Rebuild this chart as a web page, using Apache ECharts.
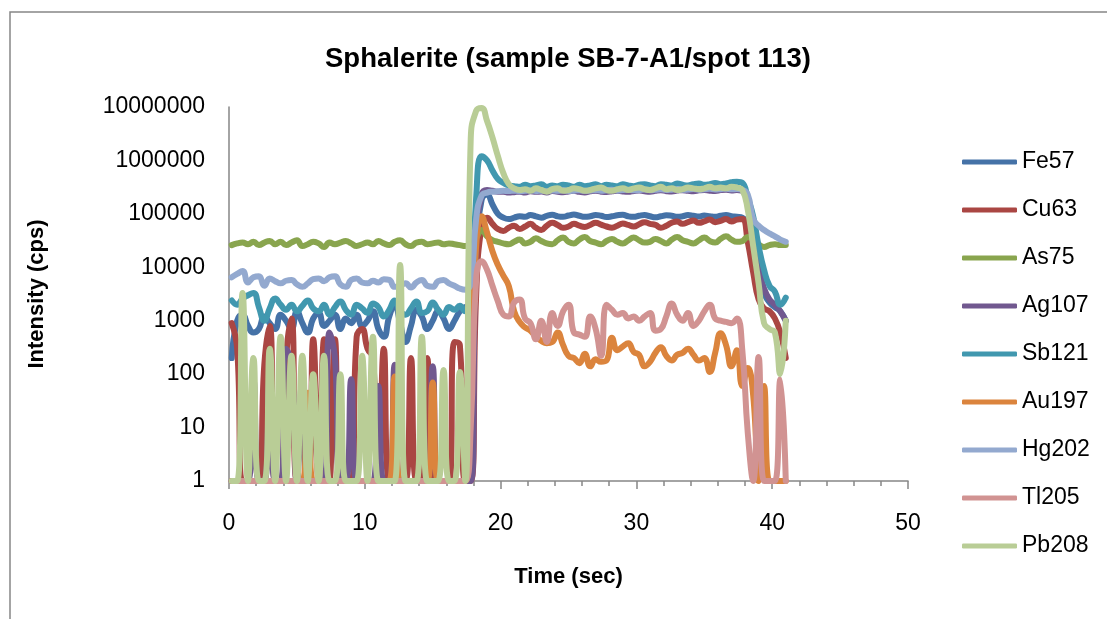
<!DOCTYPE html>
<html>
<head>
<meta charset="utf-8">
<script src="https://cdn.jsdelivr.net/npm/echarts@6/dist/echarts.min.js"></script>
<style>
  html, body { margin: 0; padding: 0; background: #ffffff; }
  #chart { width: 1107px; height: 619px; }
</style>
</head>
<body>
<div id="chart"></div>
<script>
// LA-ICP-MS time-resolved signal, counts per second per isotope
const timeSec = [
  0.2, 0.6, 1.0, 1.4, 1.8, 2.2, 2.6, 3.0, 3.4, 3.8,
  4.2, 4.6, 5.0, 5.4, 5.8, 6.2, 6.6, 7.0, 7.4, 7.8,
  8.2, 8.6, 9.0, 9.4, 9.8, 10.2, 10.6, 11.0, 11.4, 11.8,
  12.2, 12.6, 13.0, 13.4, 13.8, 14.2, 14.6, 15.0, 15.4, 15.8,
  16.2, 16.6, 17.0, 17.4, 17.8, 18.2, 18.6, 19.0, 19.4, 19.8,
  20.2, 20.6, 21.0, 21.4, 21.8, 22.2, 22.6, 23.0, 23.4, 23.8,
  24.2, 24.6, 25.0, 25.4, 25.8, 26.2, 26.6, 27.0, 27.4, 27.8,
  28.2, 28.6, 29.0, 29.4, 29.8, 30.2, 30.6, 31.0, 31.4, 31.8,
  32.2, 32.6, 33.0, 33.4, 33.8, 34.2, 34.6, 35.0, 35.4, 35.8,
  36.2, 36.6, 37.0, 37.4, 37.8, 38.2, 38.6, 39.0, 39.4, 39.8,
  40.2, 40.6, 41.0
];

const fe57 = [
  200, 1000, 1300, 800, 600, 700, 1200, 900, 700, 1300,
  1000, 700, 1500, 900, 600, 1100, 1400, 800, 1000, 1300,
  700, 1100, 900, 1300, 800, 1000, 1500, 700, 500, 1200,
  2000, 900, 400, 800, 1600, 1200, 700, 1000, 1500, 1100,
  700, 1000, 1500, 1800, 2000, 25000, 180000, 230000, 150000, 100000,
  85000, 80000, 85000, 90000, 88000, 95000, 90000, 85000, 92000, 96000,
  90000, 88000, 93000, 97000, 92000, 88000, 90000, 95000, 92000, 87000,
  90000, 94000, 96000, 90000, 88000, 92000, 95000, 90000, 86000, 90000,
  94000, 92000, 88000, 90000, 95000, 92000, 89000, 93000, 90000, 88000,
  92000, 95000, 90000, 88000, 85000, 55000, 14000, 5000, 3200, 2200,
  1800, 1500, 1000
];

const cu63 = [
  900, 300, 1, 1, 1, 1, 150, 800, 1, 1,
  200, 1100, 1, 1, 1, 450, 1, 450, 1, 450,
  1, 1, 1, 500, 700, 300, 200, 1, 300, 1,
  1, 1, 1, 200, 1, 1, 200, 1, 1, 1,
  1, 400, 350, 1, 1, 3000, 60000, 85000, 65000, 52000,
  48000, 55000, 60000, 52000, 58000, 65000, 55000, 50000, 60000, 68000,
  62000, 55000, 58000, 65000, 60000, 57000, 62000, 68000, 63000, 58000,
  55000, 60000, 66000, 62000, 58000, 64000, 70000, 65000, 62000, 55000,
  60000, 68000, 72000, 65000, 70000, 75000, 68000, 72000, 78000, 70000,
  74000, 80000, 72000, 78000, 80000, 30000, 8000, 2500, 1700, 1500,
  1100, 600, 200
];

const as75 = [
  26000, 28000, 29000, 27000, 30000, 26000, 29000, 31000, 27000, 30000,
  26000, 29000, 32000, 25000, 27000, 30000, 28000, 24000, 29000, 27000,
  29000, 31000, 28000, 25000, 27000, 29000, 27000, 31000, 28000, 26000,
  30000, 32000, 27000, 25000, 29000, 30000, 27000, 28000, 29000, 27000,
  28000, 27000, 26000, 25000, 26000, 35000, 50000, 38000, 32000, 30000,
  28000, 27000, 30000, 33000, 28000, 30000, 35000, 31000, 28000, 27000,
  32000, 36000, 30000, 28000, 33000, 37000, 31000, 29000, 27000, 31000,
  34000, 30000, 28000, 32000, 36000, 32000, 29000, 30000, 34000, 31000,
  28000, 33000, 37000, 32000, 30000, 28000, 32000, 36000, 31000, 29000,
  34000, 38000, 33000, 30000, 31000, 37000, 33000, 27000, 24000, 26000,
  27000, 26000, 26000
];

const ag107 = [
  1, 1, 1, 1, 80, 1, 1, 80, 1, 1,
  300, 150, 1, 80, 1, 1, 1, 1, 600, 200,
  1, 1, 80, 1, 1, 1, 1, 60, 1, 1,
  150, 1, 1, 1, 1, 1, 1, 140, 1, 1,
  1, 1, 1, 1, 1, 30000, 230000, 280000, 270000, 260000,
  260000, 250000, 255000, 260000, 250000, 265000, 258000, 262000, 250000, 268000,
  260000, 255000, 262000, 270000, 258000, 252000, 264000, 270000, 260000, 256000,
  265000, 272000, 262000, 258000, 268000, 274000, 265000, 260000, 270000, 276000,
  266000, 262000, 272000, 278000, 270000, 265000, 275000, 280000, 272000, 268000,
  278000, 282000, 275000, 280000, 270000, 150000, 40000, 10000, 4000, 2500,
  2000, 1500, 1000
];

const sb121 = [
  2400, 2000, 2600, 3000, 3300, 1800, 1000, 1700, 2600, 2000,
  1600, 2000, 1500, 1900, 2400, 1700, 1500, 2000, 1300, 1800,
  2300, 1600, 1300, 2000, 1700, 1400, 2100, 1800, 1200, 1600,
  2400, 1500, 1300, 1700, 2300, 1400, 1500, 2200, 1600, 1300,
  1800, 1600, 1900, 1500, 2000, 200000, 1200000, 1000000, 650000, 450000,
  380000, 340000, 330000, 320000, 350000, 330000, 340000, 360000, 320000, 340000,
  330000, 350000, 340000, 320000, 350000, 330000, 340000, 360000, 330000, 350000,
  340000, 330000, 360000, 340000, 330000, 350000, 360000, 340000, 330000, 360000,
  350000, 340000, 370000, 350000, 340000, 360000, 370000, 350000, 360000, 380000,
  360000, 370000, 390000, 400000, 380000, 200000, 90000, 25000, 9000, 4500,
  3500, 2000, 2700
];

const au197 = [
  1, 1, 1, 1, 1, 1, 1, 1, 1, 1,
  1, 1, 1, 1, 45, 1, 1, 1, 1, 1,
  1, 1, 1, 1, 1, 1, 1, 1, 1, 1,
  90, 1, 1, 1, 1, 1, 1, 70, 1, 1,
  1, 1, 1, 1, 100, 25000, 90000, 45000, 20000, 11000,
  7000, 4500, 1500, 950, 750, 650, 500, 420, 380, 400,
  600, 350, 220, 200, 160, 240, 140, 190, 170, 180,
  480, 280, 330, 380, 260, 230, 140, 170, 250, 320,
  220, 180, 230, 250, 300, 230, 180, 200, 110, 250,
  580, 350, 140, 280, 60, 130, 40, 1, 60, 1,
  1, 1, 1
];

const hg202 = [
  6500, 7500, 8500, 5200, 6500, 6800, 4500, 6200, 5500, 5000,
  5600, 5800, 4800, 4300, 5000, 6000, 6200, 5500, 6500, 6800,
  4800, 4300, 5800, 6200, 5200, 5000, 5600, 5200, 6000, 5800,
  4300, 4500, 5000, 4200, 5200, 5800, 4500, 4300, 5500, 5800,
  5000, 4500, 4000, 3800, 5000, 80000, 220000, 250000, 260000, 265000,
  270000, 268000, 272000, 265000, 270000, 275000, 268000, 272000, 266000, 274000,
  270000, 276000, 268000, 272000, 278000, 270000, 274000, 280000, 272000, 276000,
  282000, 274000, 278000, 284000, 276000, 280000, 286000, 278000, 282000, 288000,
  280000, 284000, 290000, 282000, 286000, 292000, 284000, 288000, 294000, 286000,
  290000, 296000, 288000, 292000, 280000, 230000, 80000, 60000, 50000, 43000,
  38000, 33000, 30000
];

const tl205 = [
  1, 1, 1, 1, 1, 1, 1, 1, 1, 1,
  1, 1, 1, 1, 1, 1, 1, 1, 1, 1,
  1, 1, 1, 1, 1, 1, 1, 1, 1, 1,
  1, 1, 1, 1, 1, 1, 1, 1, 1, 1,
  1, 1, 1, 1, 10, 6000, 13000, 9000, 4500, 2300,
  1300, 1200, 2200, 2500, 1100, 900, 450, 1000, 400, 1400,
  800, 1500, 2000, 600, 550, 500, 1200, 700, 220, 2000,
  1600, 1300, 1400, 1100, 1200, 1000, 1200, 1400, 650, 700,
  1200, 2100, 1300, 1000, 1400, 800, 1000, 1500, 2000, 1100,
  1000, 950, 900, 1100, 280, 8, 1, 210, 1, 1,
  1, 80, 1
];

const pb208 = [
  1, 1, 3300, 1, 200, 1, 1, 300, 1, 500,
  1, 220, 1, 220, 1, 100, 1, 220, 1, 1,
  100, 1, 1, 1, 220, 1, 500, 1, 1, 1,
  1, 11000, 1, 1, 1, 500, 1, 1, 1, 120,
  1, 1, 110, 1, 2500000, 8500000, 9600000, 5500000, 2700000, 1200000,
  580000, 360000, 300000, 280000, 290000, 270000, 300000, 280000, 260000, 290000,
  300000, 270000, 280000, 300000, 290000, 270000, 280000, 300000, 310000, 280000,
  270000, 290000, 300000, 280000, 300000, 310000, 290000, 280000, 300000, 320000,
  290000, 300000, 280000, 290000, 310000, 300000, 290000, 300000, 320000, 300000,
  310000, 300000, 320000, 310000, 280000, 120000, 25000, 5000, 900, 700,
  600, 100, 1000
];

const seriesNames = ['Fe57', 'Cu63', 'As75', 'Ag107', 'Sb121', 'Au197', 'Hg202', 'Tl205', 'Pb208'];
const seriesValues = [fe57, cu63, as75, ag107, sb121, au197, hg202, tl205, pb208];
const seriesColors = ['#4572A7', '#AA4643', '#89A54E', '#71588F', '#4198AF', '#DB843D', '#93A9CF', '#D19392', '#B9CD96'];

const xMin = 0, xMax = 50, xStep = 10;
const yMin = 1, yMax = 10000000;

const FONT = '"Liberation Sans", Arial, sans-serif';
const AXIS_GREY = '#868686';

const chart = echarts.init(document.getElementById('chart'), null, { renderer: 'canvas' });

const series = seriesNames.map((name, k) => ({
  name: name,
  type: 'line',
  data: timeSec.map((t, i) => [t, seriesValues[k][i]]),
  smooth: 0.5,
  symbol: 'none',
  clip: false,
  lineStyle: { width: 6, color: seriesColors[k], cap: 'round', join: 'round' },
  itemStyle: { color: seriesColors[k] },
  emphasis: { disabled: true }
}));

chart.setOption({
  backgroundColor: '#ffffff',
  animation: false,
  color: seriesColors,
  title: {
    text: 'Sphalerite (sample SB-7-A1/spot 113)',
    left: 563,
    top: 40,
    textAlign: 'center',
    textStyle: { fontFamily: FONT, fontSize: 27.5, fontWeight: 'bold', color: '#000000' }
  },
  graphic: [{
    type: 'rect',
    shape: { x: 10, y: 12, width: 1200, height: 700 },
    style: { fill: 'none', stroke: AXIS_GREY, lineWidth: 1.5 },
    silent: true,
    z: -1
  }],
  grid: { left: 229, top: 107, right: 199, bottom: 138, containLabel: false },
  legend: {
    orient: 'vertical',
    left: 957,
    top: 143,
    itemWidth: 55,
    itemHeight: 5,
    itemGap: 20,
    icon: 'roundRect',
    data: seriesNames,
    textStyle: { fontFamily: FONT, fontSize: 23, lineHeight: 28, color: '#000000' }
  },
  xAxis: {
    type: 'value',
    min: xMin,
    max: xMax,
    interval: xStep,
    name: 'Time (sec)',
    nameLocation: 'middle',
    nameGap: 85,
    nameTextStyle: { fontFamily: FONT, fontSize: 22, fontWeight: 'bold', color: '#000000' },
    axisLine: { onZero: false, lineStyle: { color: AXIS_GREY, width: 1.5 } },
    axisTick: { show: true, length: 8, lineStyle: { color: AXIS_GREY, width: 1.5 } },
    minorTick: { show: true, splitNumber: 5, length: 5, lineStyle: { color: AXIS_GREY, width: 1.5 } },
    splitLine: { show: false },
    axisLabel: { margin: 31, fontFamily: FONT, fontSize: 23, color: '#000000' }
  },
  yAxis: {
    type: 'log',
    logBase: 10,
    min: yMin,
    max: yMax,
    splitNumber: 7,
    name: 'Intensity (cps)',
    nameLocation: 'middle',
    nameRotate: 90,
    nameGap: 181,
    nameTextStyle: { fontFamily: FONT, fontSize: 22, fontWeight: 'bold', color: '#000000' },
    axisLine: { show: true, lineStyle: { color: AXIS_GREY, width: 1.5 } },
    axisTick: { show: false },
    splitLine: { show: false },
    axisLabel: {
      margin: 24,
      fontFamily: FONT,
      fontSize: 23,
      color: '#000000',
      formatter: v => String(Math.round(v))
    }
  },
  series: series
});
</script>
</body>
</html>
